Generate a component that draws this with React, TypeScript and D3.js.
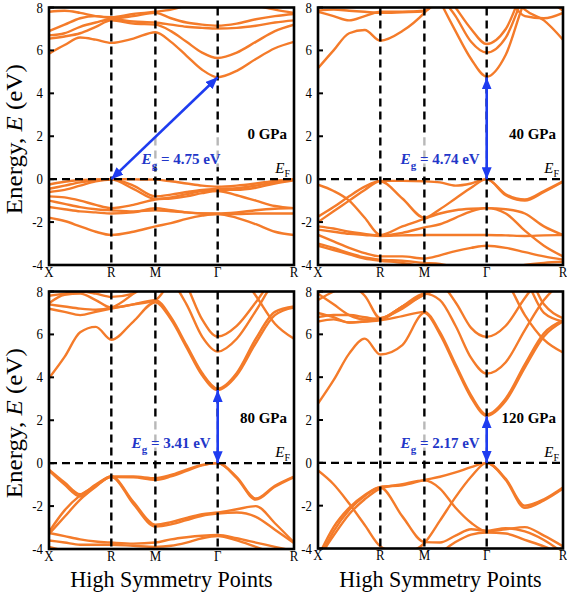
import React from "react";
import * as d3 from "d3";

// ---- k-path ----
const symmetryLabels = ["X", "R", "M", "Γ", "R"];
const segmentLengths = [0.7071, 0.5, 0.7071, 0.866];
const segmentDivisions = [4, 2, 4, 4];
const energyTicks = [-4, -2, 0, 2, 4, 6, 8];

// ---- panel info ----
const pressures = ["0 GPa", "40 GPa", "80 GPa", "120 GPa"];
const gapValues = [4.75, 4.74, 3.41, 2.17];
const vbmPoint = [1, 3, 3, 3]; // index into symmetry points: R or Γ
const cbmPoint = [3, 3, 3, 3];

// nodes: X, XR¼, XR½, XR¾, R, RM½, M, MΓ¼, MΓ½, MΓ¾, Γ, ΓR¼, ΓR½, ΓR¾, R
const bands0GPa = [
  [-0.25, -0.12, -0.04, -0.01, 0, -0.01, -0.02, -0.1, -0.2, -0.3, -0.35, -0.3, -0.2, -0.08, 0],
  [-0.45, -0.3, -0.15, -0.05, 0, -0.3, -0.8, -0.72, -0.6, -0.5, -0.45, -0.42, -0.3, -0.15, -0.02],
  [-0.6, -0.5, -0.3, -0.1, -0.02, -0.45, -0.92, -0.85, -0.7, -0.56, -0.5, -0.5, -0.4, -0.2, -0.05],
  [-0.8, -0.85, -1.0, -1.2, -1.35, -1.2, -0.95, -0.9, -0.8, -0.65, -0.55, -0.75, -1.0, -1.25, -1.35],
  [-1.0, -1.15, -1.3, -1.4, -1.45, -1.5, -1.45, -1.5, -1.55, -1.6, -1.6, -1.55, -1.45, -1.38, -1.35],
  [-1.3, -1.4, -1.5, -1.55, -1.6, -1.55, -1.35, -1.45, -1.55, -1.6, -1.62, -1.62, -1.6, -1.6, -1.6],
  [-1.8, -1.95, -2.2, -2.45, -2.6, -2.45, -2.2, -2.05, -1.85, -1.7, -1.62, -1.8, -2.1, -2.45, -2.6],
  [5.85, 6.25, 6.6, 6.5, 6.35, 6.55, 6.85, 6.4, 5.75, 5.1, 4.75, 5.05, 5.6, 6.1, 6.4],
  [6.55, 6.65, 6.8, 7.1, 7.4, 7.25, 7.2, 6.9, 6.4, 5.9, 5.65, 5.9, 6.4, 6.9, 7.2],
  [6.7, 6.8, 7.1, 7.3, 7.45, 7.35, 7.3, 7.2, 7.1, 7.05, 7.02, 7.05, 7.15, 7.3, 7.4],
  [6.9, 7.2, 7.5, 7.6, 7.5, 7.6, 7.75, 7.5, 7.3, 7.2, 7.15, 7.25, 7.45, 7.6, 7.7],
  [7.8, 7.85, 7.75, 7.6, 7.55, 7.7, 7.8, 7.9, 8.1, 8.3, 8.4, 8.3, 8.1, 7.9, 7.75],
];

const bands40GPa = [
  [-1.75, -1.3, -0.8, -0.35, -0.08, -0.08, -0.1, -0.15, -0.3, -0.2, 0, -0.7, -0.95, -0.55, -0.1],
  [-2.0, -1.5, -1.0, -0.5, -0.1, -0.9, -1.8, -1.4, -0.9, -0.4, 0, -0.75, -1.0, -0.6, -0.12],
  [-0.26, -0.55, -1.0, -1.8, -2.6, -2.2, -1.85, -1.6, -1.45, -1.38, -1.35, -1.4, -1.6, -2.2, -2.6],
  [-2.2, -2.3, -2.45, -2.55, -2.62, -2.5, -2.25, -2.1, -1.8, -1.5, -1.35, -1.6, -2.4, -3.1, -3.6],
  [-2.35, -2.45, -2.55, -2.6, -2.65, -2.62, -2.6, -2.6, -2.6, -2.6, -2.6, -2.62, -2.65, -2.62, -2.6],
  [-2.6, -2.9, -3.2, -3.45, -3.6, -3.6, -3.7, -3.55, -3.35, -3.2, -3.1, -3.2, -3.4, -3.6, -3.75],
  [-3.0, -3.2, -3.45, -3.65, -3.75, -3.8, -3.9, -3.95, -4.1, -4.2, -4.3, -4.2, -4.0, -3.9, -3.85],
  [-3.1, -3.3, -3.5, -3.7, -3.8, -3.9, -4.1, -4.3, -4.4, -4.5, -4.5, -4.4, -4.3, -4.1, -4.0],
  [5.17, 6.0, 6.8, 6.95, 6.45, 6.9, 7.75, 8.6, 9.2, 9.5, 9.6, 9.5, 9.2, 8.9, 8.6],
  [9.6, 9.6, 9.6, 9.6, 9.6, 9.6, 9.8, 8.3, 6.9, 5.6, 4.78, 5.8, 8.3, 9.5, 9.6],
  [9.6, 9.6, 9.6, 9.6, 9.6, 9.6, 10.0, 8.6, 7.6, 6.4, 5.9, 6.6, 8.6, 9.5, 9.6],
  [9.6, 9.6, 9.6, 9.6, 9.6, 9.6, 10.0, 9.0, 8.0, 7.0, 6.3, 7.0, 8.9, 9.5, 9.6],
  [9.6, 9.6, 9.6, 9.6, 9.6, 9.6, 9.6, 9.6, 9.6, 9.6, 9.5, 9.0, 7.9, 7.4, 6.5],
  [9.6, 9.6, 9.6, 9.6, 9.6, 9.6, 9.6, 9.6, 9.6, 9.6, 9.5, 8.6, 7.6, 7.5, 7.75],
  [7.85, 7.9, 7.85, 7.8, 7.75, 7.78, 7.82, 8.5, 9.0, 9.4, 9.5, 9.4, 9.0, 8.5, 7.85],
  [7.8, 7.6, 7.4, 7.6, 7.8, 7.8, 7.85, 8.4, 9.0, 9.4, 9.5, 9.4, 9.0, 8.4, 7.9],
];

const bands80GPa = [
  [-0.3, -0.9, -1.45, -1.0, -0.62, -0.62, -0.7, -0.55, -0.3, -0.08, 0, -0.65, -1.65, -1.05, -0.62],
  [-0.35, -1.0, -1.55, -1.05, -0.65, -0.66, -0.78, -0.62, -0.36, -0.1, 0, -0.7, -1.7, -1.1, -0.65],
  [-3.2, -2.2, -1.5, -1.05, -0.62, -1.8, -2.87, -2.75, -2.55, -2.38, -2.3, -2.15, -2.0, -2.8, -3.7],
  [-3.3, -2.5, -1.7, -1.1, -0.63, -1.9, -2.95, -2.85, -2.65, -2.45, -2.35, -2.3, -2.5, -3.1, -3.72],
  [-3.25, -3.4, -3.55, -3.65, -3.7, -3.75, -3.7, -3.55, -3.45, -3.38, -3.35, -3.5, -3.7, -3.9, -4.1],
  [-3.6, -3.7, -3.8, -3.8, -3.8, -3.85, -3.9, -3.85, -3.7, -3.5, -3.4, -3.6, -3.9, -4.2, -4.4],
  [-3.9, -4.1, -4.3, -4.4, -4.5, -4.5, -4.5, -4.5, -4.4, -4.3, -4.2, -4.2, -4.3, -4.4, -4.5],
  [3.96, 4.95, 6.1, 6.35, 5.75, 6.6, 7.5, 6.7, 5.4, 4.1, 3.41, 4.1, 5.6, 6.9, 7.25],
  [7.2, 7.05, 6.9, 7.05, 7.2, 7.4, 7.6, 6.8, 5.5, 4.2, 3.47, 4.2, 5.8, 7.05, 7.3],
  [7.4, 7.3, 7.2, 7.15, 7.25, 7.9, 8.8, 8.5, 7.4, 5.9, 5.2, 5.8, 7.1, 8.5, 9.2],
  [7.8, 7.9, 8.0, 7.9, 7.75, 7.9, 8.9, 9.5, 8.3, 6.7, 5.9, 6.4, 7.5, 8.7, 9.2],
  [9.0, 9.0, 9.0, 9.0, 9.0, 9.0, 9.2, 9.5, 9.5, 9.5, 9.5, 9.0, 7.8, 6.5, 5.8],
  [7.45, 7.85, 7.9, 7.6, 7.25, 7.4, 7.6, 8.5, 9.2, 9.5, 9.5, 9.5, 9.2, 8.8, 8.5],
];

const bands120GPa = [
  [-0.36, -1.0, -1.9, -2.9, -3.9, -4.3, -4.6, -4.6, -4.6, -4.6, -4.6, -4.6, -4.6, -4.6, -4.6],
  [-4.6, -3.2, -2.2, -1.55, -1.15, -2.5, -3.7, -3.72, -3.4, -3.1, -3.17, -3.05, -3.2, -3.6, -4.2],
  [-4.4, -3.0, -2.1, -1.5, -1.12, -1.05, -0.8, -0.65, -0.45, -0.2, 0, -0.75, -2.0, -1.7, -1.15],
  [-4.8, -4.6, -4.4, -4.4, -4.6, -4.3, -3.75, -2.7, -1.6, -0.65, 0, -0.8, -2.1, -1.75, -1.2],
  [-4.5, -3.4, -2.4, -1.7, -1.2, -1.0, -0.82, -1.2, -2.1, -2.8, -3.2, -3.1, -3.0, -3.4, -3.9],
  [-4.8, -4.8, -4.8, -4.8, -4.8, -4.8, -4.6, -4.2, -3.7, -3.35, -3.25, -3.3, -3.6, -3.9, -4.3],
  [2.77, 3.86, 5.1, 5.8, 5.06, 5.5, 7.0, 6.0, 4.5, 3.05, 2.2, 2.9, 4.45, 5.9, 6.6],
  [6.6, 6.7, 6.55, 6.6, 6.65, 6.85, 7.05, 6.1, 4.6, 3.15, 2.25, 3.0, 4.6, 6.05, 6.65],
  [6.8, 6.9, 6.9, 6.8, 6.7, 7.3, 7.9, 7.6, 6.4, 4.9, 4.17, 4.7, 6.2, 7.6, 8.5],
  [7.0, 6.8, 6.55, 6.6, 6.7, 7.3, 7.9, 8.3, 7.5, 6.3, 5.88, 6.4, 7.7, 8.8, 9.2],
  [9.0, 9.0, 9.0, 9.0, 9.0, 9.0, 9.0, 9.0, 9.0, 9.0, 9.0, 8.5, 6.9, 5.75, 5.15],
  [7.6, 8.0, 8.3, 7.8, 6.75, 7.3, 7.85, 8.2, 9.0, 9.3, 9.4, 9.3, 9.0, 7.4, 6.75],
  [7.9, 7.4, 6.9, 6.7, 6.75, 7.2, 7.9, 8.3, 9.0, 9.3, 9.4, 9.3, 8.6, 7.0, 6.6],
];

const allBands = [bands0GPa, bands40GPa, bands80GPa, bands120GPa];

// ---- layout ----
const W = 567;
const H = 592;
const panelBoxes = [
  { x0: 49, x1: 294, y0: 7.5, y1: 265 },
  { x0: 318, x1: 563, y0: 7.5, y1: 265 },
  { x0: 49, x1: 294, y0: 291.5, y1: 549 },
  { x0: 318, x1: 563, y0: 291.5, y1: 548.5 },
];
const ORANGE = "#F47B2A";
const BLUE = "#1E3CF0";
const LABEL_BLUE = "#2236C8";
const FONT = "'Liberation Serif','Times New Roman',Times,serif";

const kNodes: number[] = [0];
const symK: number[] = [0];
{
  let acc = 0;
  segmentLengths.forEach((len, i) => {
    for (let j = 1; j <= segmentDivisions[i]; j++) kNodes.push(acc + (len * j) / segmentDivisions[i]);
    acc += len;
    symK.push(acc);
  });
}
const kMax = symK[symK.length - 1];

function T(props: any) {
  const { x, y, size = 14, anchor = "middle", weight = "normal", italic = false, fill = "#000", children } = props;
  return (
    <text
      transform={`translate(${x},${y}) scale(0.92,1)`}
      fontSize={size}
      textAnchor={anchor}
      fontWeight={weight}
      fontStyle={italic ? "italic" : "normal"}
      fill={fill}
      fontFamily={FONT}
    >
      {children}
    </text>
  );
}

function Panel({ idx }: { idx: number }) {
  const b = panelBoxes[idx];
  const x = d3.scaleLinear().domain([0, kMax]).range([b.x0, b.x1]);
  const y = d3.scaleLinear().domain([-4, 8]).range([b.y1, b.y0]);
  const line = d3
    .line<number>()
    .x((_, i) => x(kNodes[i]))
    .y((d) => y(d))
    .curve(d3.curveMonotoneX);
  const clipId = `clip${idx}`;
  const bands = allBands[idx];
  const gap = gapValues[idx];
  const vx = x(symK[vbmPoint[idx]]);
  const cx = x(symK[cbmPoint[idx]]);
  const gx = x(symK[3]);
  const mx = x(symK[2]);
  const y0 = y(0);
  const bottomRow = idx >= 2;
  const leftCol = idx % 2 === 0;
  const labelEnd = idx === 0 ? gx + 3 : gx - 7;
  return (
    <g>
      <defs>
        <clipPath id={clipId}>
          <rect x={b.x0} y={b.y0} width={b.x1 - b.x0} height={b.y1 - b.y0} />
        </clipPath>
      </defs>
      <g clipPath={`url(#${clipId})`}>
        {bands.map((band, i) => (
          <path key={i} d={line(band) || ""} fill="none" stroke={ORANGE} strokeWidth={2.4} strokeLinejoin="round" />
        ))}
      </g>
      {/* dashed guides */}
      {symK.slice(1, 4).map((k, i) => (
        <line key={i} x1={x(k)} x2={x(k)} y1={b.y0} y2={b.y1} stroke="#000" strokeWidth={2.4} strokeDasharray="8,5" />
      ))}
      <line x1={b.x0} x2={b.x1} y1={y0} y2={y0} stroke="#000" strokeWidth={2.4} strokeDasharray="8,5" />
      {/* translucent label box */}
      <rect x={mx - 5} y={y0 - 42} width={gx - mx + 10} height={30} fill="#fff" opacity={0.72} />
      {/* arrow */}
      <line
        x1={vx}
        y1={y(0)}
        x2={cx}
        y2={y(gap)}
        stroke={BLUE}
        strokeWidth={2.6}
        markerStart="url(#ah)"
        markerEnd="url(#ah)"
      />
      {/* gap label */}
      <text x={labelEnd} y={y0 - 15} textAnchor="end" fontFamily={FONT} fontSize={15} fontWeight="bold" fill={LABEL_BLUE}>
        <tspan fontStyle="italic">E</tspan>
        <tspan dy={5} fontSize={11}>g</tspan>
        <tspan dy={-5}>{` = ${gap.toFixed(2)} eV`}</tspan>
      </text>
      {/* pressure */}
      <text x={b.x1 - 7} y={y(1.85)} textAnchor="end" fontFamily={FONT} fontSize={15} fontWeight="bold" fill="#000">
        {pressures[idx]}
      </text>
      {/* Fermi label */}
      <text x={b.x1 - 4} y={y0 - 6} textAnchor="end" fontFamily={FONT} fontSize={15} fill="#000">
        <tspan fontStyle="italic">E</tspan>
        <tspan dy={4} fontSize={10}>F</tspan>
      </text>
      {/* frame */}
      <rect x={b.x0} y={b.y0} width={b.x1 - b.x0} height={b.y1 - b.y0} fill="none" stroke="#000" strokeWidth={2.6} />
      {energyTicks.map((t) => (
        <g key={t}>
          <line x1={b.x0} x2={b.x0 + 5} y1={y(t)} y2={y(t)} stroke="#000" strokeWidth={2} />
          <T x={b.x0 - 6} y={y(t) + 5} anchor="end" size={14}>
            {t}
          </T>
        </g>
      ))}
      {symK.map((k, i) => (
        <T key={i} x={x(k)} y={b.y1 + 11.5} size={14}>
          {symmetryLabels[i]}
        </T>
      ))}
      {bottomRow && (
        <T x={(b.x0 + b.x1) / 2} y={H - 5.5} size={24}>
          High Symmetry Points
        </T>
      )}
      {leftCol && (
        <text
          transform={`translate(22,${(b.y0 + b.y1) / 2 + 3}) scale(0.92,1) rotate(-90)`}
          fontSize={25}
          textAnchor="middle"
          fontFamily={FONT}
        >
          Energy, <tspan fontStyle="italic">E</tspan> (eV)
        </text>
      )}
    </g>
  );
}

export default function App() {
  return (
    <svg width={W} height={H} viewBox={`0 0 ${W} ${H}`} style={{ position: "absolute", left: 0, top: 0, background: "#fff" }}>
      <defs>
        <marker id="ah" viewBox="0 0 12 10" refX={12} refY={5} markerWidth={12} markerHeight={10} markerUnits="userSpaceOnUse" orient="auto-start-reverse">
          <path d="M0,0 L12,5 L0,10 Z" fill={BLUE} />
        </marker>
      </defs>
      <rect x={0} y={0} width={W} height={H} fill="#fff" />
      {panelBoxes.map((_, i) => (
        <Panel key={i} idx={i} />
      ))}
    </svg>
  );
}
